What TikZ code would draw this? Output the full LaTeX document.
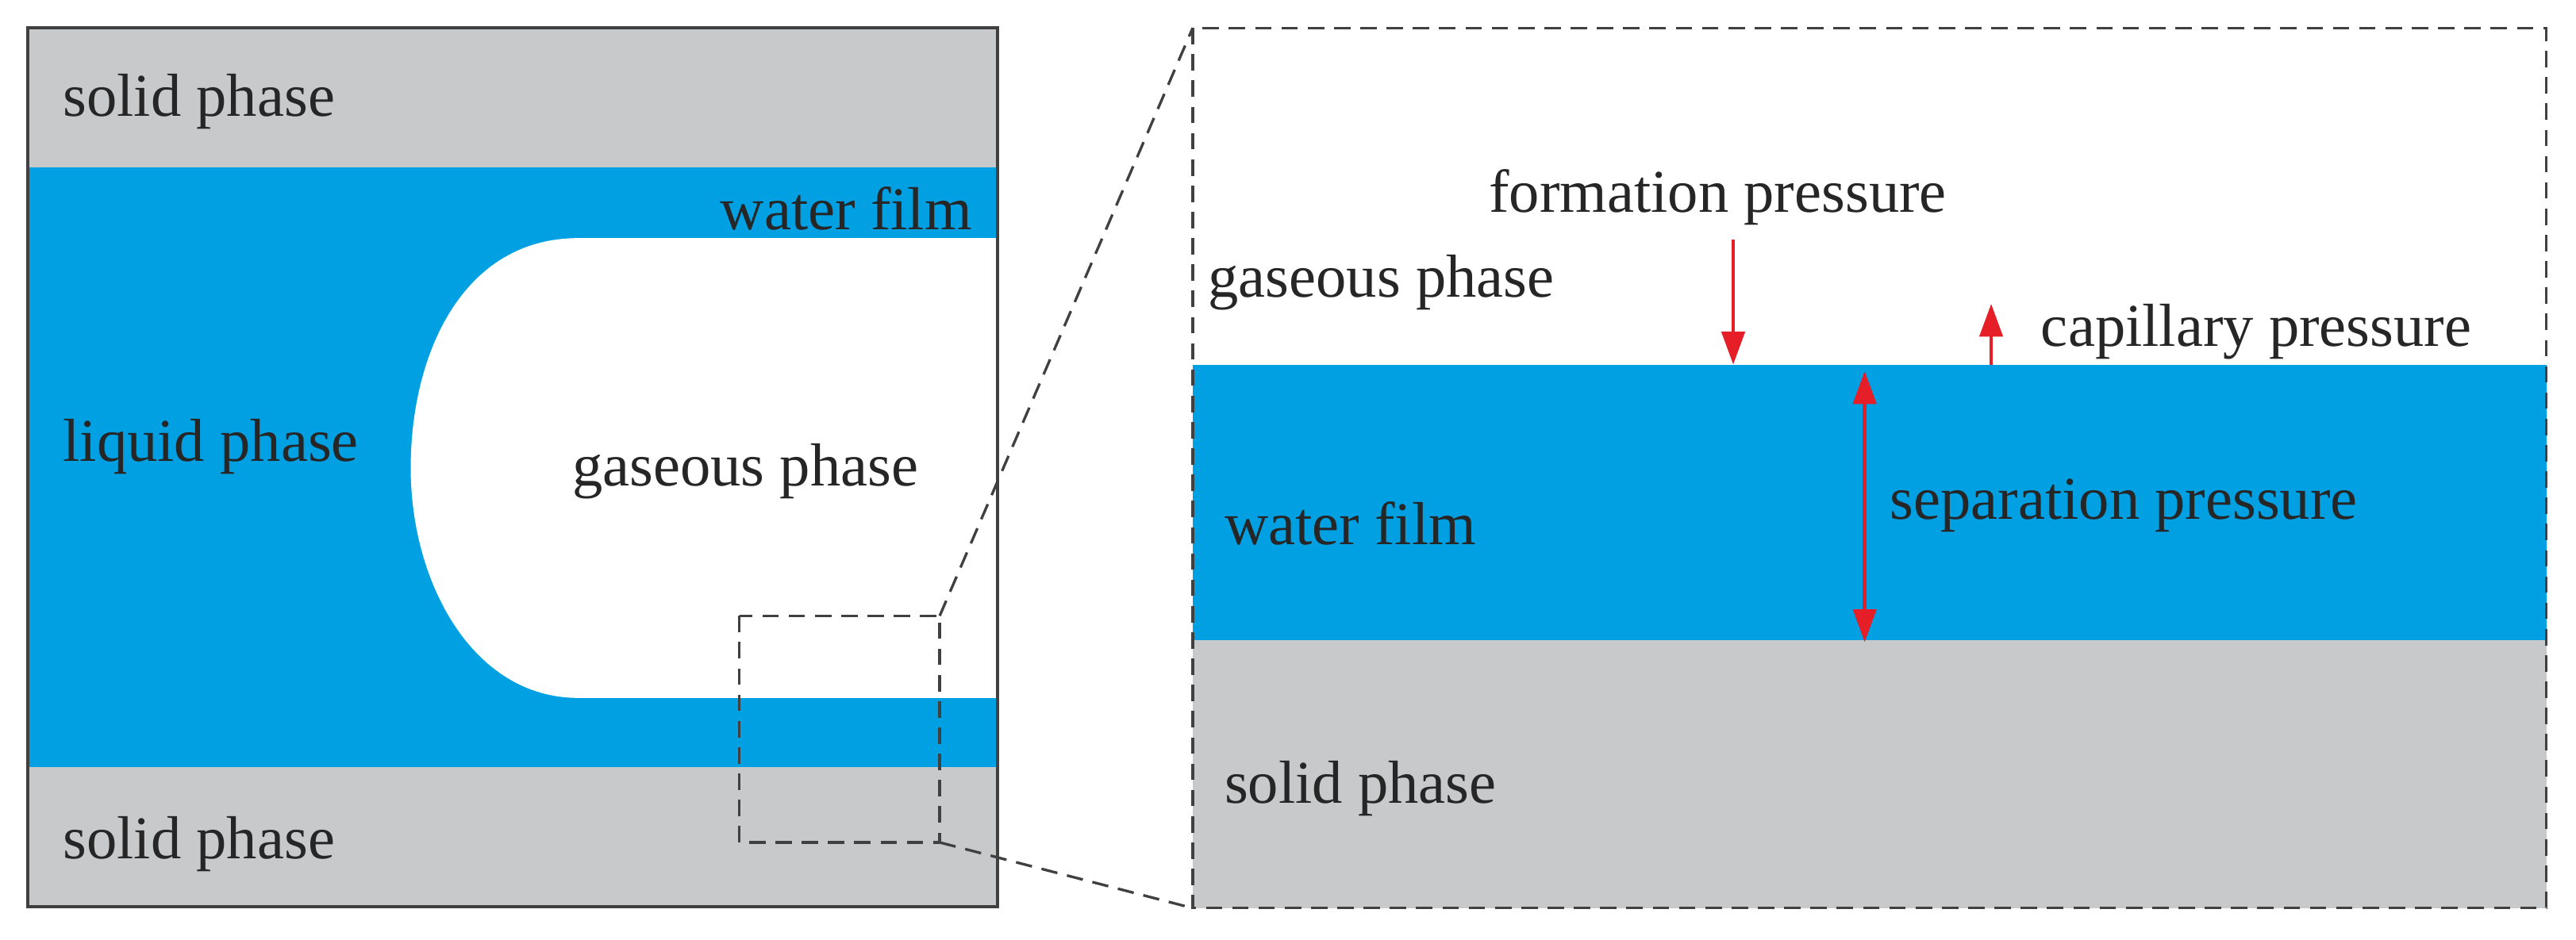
\documentclass[tikz,border=0pt]{standalone}
\usepackage{fontspec}
\setmainfont{Liberation Serif}
\usetikzlibrary{arrows.meta}
\definecolor{wblue}{RGB}{0,160,227}
\definecolor{sgray}{RGB}{200,201,202}
\definecolor{bord}{RGB}{64,64,64}
\definecolor{ared}{RGB}{230,30,40}
\begin{document}
\begin{tikzpicture}[x=0.5pt,y=-0.5pt,
  lbl/.style={font=\fontsize{18.5}{20}\selectfont, text=black!85, inner sep=0pt},
  dashln/.style={draw=bord, line width=0.8pt, dash pattern=on 5pt off 3pt},
  rarr/.style={draw=ared, line width=1.1pt, -{Triangle[length=10pt,width=7pt]}},
  rdbl/.style={draw=ared, line width=1.1pt, {Triangle[length=10pt,width=7pt]}-{Triangle[length=10pt,width=7pt]}}]
\useasboundingbox (0,0) rectangle (1568,572);
% left panel
\fill[wblue] (17,102) rectangle (607,467);
\fill[sgray] (17,17) rectangle (607,102);
\fill[sgray] (17,467) rectangle (607,552);
\fill[white] (607,145) -- (352,145) .. controls (282,145) and (250,215) .. (250,285)
  .. controls (250,355) and (288,425) .. (352,425) -- (607,425) -- cycle;
\draw[bord, line width=1pt] (17,17) rectangle (607,552);
% right panel
\fill[wblue] (726,222) rectangle (1550,390);
\fill[sgray] (726,390) rectangle (1550,553);
\draw[dashln] (726,17) rectangle (1550,553);
% zoom box and connectors
\draw[dashln] (450,375) rectangle (572,513);
\coordinate (zt) at (572,375); \coordinate (zb) at (572,513);
\coordinate (bt) at (726,17); \coordinate (bb) at (726,553);
\draw[dashln] (zt) -- (bt);
\draw[dashln] (zb) -- (bb);
% left labels
\node[lbl, anchor=west] (s1) at (38,62) {solid phase};
\node[lbl, anchor=east] (w1) at (592,127) {water film};
\node[lbl, anchor=west] (l1) at (38,272) {liquid phase};
\node[lbl, anchor=west] (g1) at (348,287) {gaseous phase};
\node[lbl, anchor=west] (s2) at (38,514) {solid phase};
% right labels
\node[lbl, anchor=west] (fp) at (906,120) {formation pressure};
\node[lbl, anchor=west] (g2) at (735,172) {gaseous phase};
\node[lbl, anchor=west] (cp) at (1242,202) {capillary pressure};
\node[lbl, anchor=west] (w2) at (745,319) {water film};
\node[lbl, anchor=west] (sp) at (1150,308) {separation pressure};
\node[lbl, anchor=west] (s3) at (745,480) {solid phase};
% arrows
\coordinate (f1) at (1055,146); \coordinate (f2) at (1055,222);
\coordinate (c1) at (1212,222); \coordinate (c2) at (1212,185);
\coordinate (p1) at (1135,226); \coordinate (p2) at (1135,391);
\draw[rarr] (f1) -- (f2);
\draw[rarr] (c1) -- (c2);
\draw[rdbl] (p1) -- (p2);
\end{tikzpicture}
\end{document}
